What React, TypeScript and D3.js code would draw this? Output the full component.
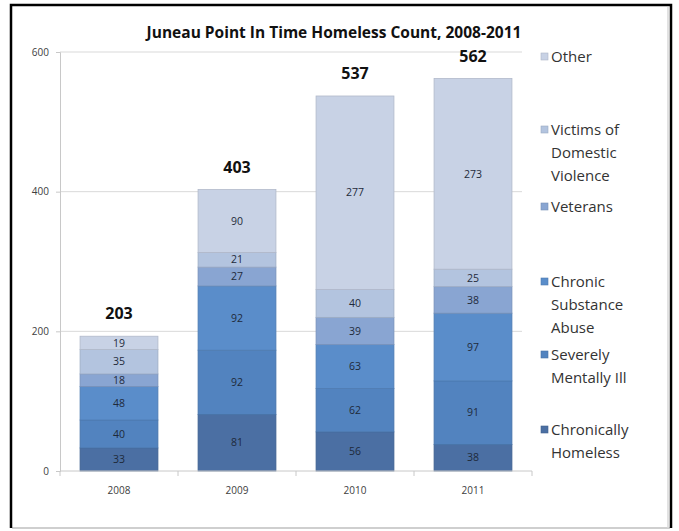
import React, { useEffect, useRef } from "react";
import * as d3 from "d3";

const years = ["2008", "2009", "2010", "2011"];
const totals = [203, 403, 537, 562];
const seriesNames = [
  "Chronically Homeless",
  "Severely Mentally Ill",
  "Chronic Substance Abuse",
  "Veterans",
  "Victims of Domestic Violence",
  "Other",
];
const chronicallyHomeless = [33, 81, 56, 38];
const severelyMentallyIll = [40, 92, 62, 91];
const chronicSubstanceAbuse = [48, 92, 63, 97];
const veterans = [18, 27, 39, 38];
const domesticViolence = [35, 21, 40, 25];
const other = [19, 90, 277, 273];
const yTicks = [0, 200, 400, 600];

// legend lines, top item first (wrapped like the original)
const legendLines: string[][] = [
  ["Other"],
  ["Victims of", "Domestic", "Violence"],
  ["Veterans"],
  ["Chronic", "Substance", "Abuse"],
  ["Severely", "Mentally Ill"],
  ["Chronically", "Homeless"],
];

const colors = ["#4b6fa3", "#5283bf", "#5a8dca", "#89a5d2", "#b3c4df", "#c8d2e5"];

const W = 679;
const H = 531;

const App: React.FC = () => {
  const svgRef = useRef<SVGSVGElement>(null);

  useEffect(() => {
    if (!svgRef.current) return;
    const svg = d3.select(svgRef.current);
    svg.selectAll("*").remove();

    const font = "'Open Sans', sans-serif";

    // frame
    svg.append("rect").attr("width", W).attr("height", H).attr("fill", "#fff");
    svg
      .append("line")
      .attr("x1", 12).attr("x2", 670).attr("y1", 528).attr("y2", 528)
      .attr("stroke", "#cfcfcf").attr("stroke-width", 2);
    svg
      .append("line")
      .attr("x1", 668).attr("x2", 668).attr("y1", 7).attr("y2", 528)
      .attr("stroke", "#d8d8d8").attr("stroke-width", 1.5);
    svg
      .append("path")
      .attr("d", "M11,528 L11,5 L671,5 L671,528")
      .attr("fill", "none")
      .attr("stroke", "#000")
      .attr("stroke-width", 2.5);

    const table = years.map((year, i) => ({
      year,
      s0: chronicallyHomeless[i],
      s1: severelyMentallyIll[i],
      s2: chronicSubstanceAbuse[i],
      s3: veterans[i],
      s4: domesticViolence[i],
      s5: other[i],
    }));
    const keys = ["s0", "s1", "s2", "s3", "s4", "s5"];

    const x = d3
      .scaleBand<string>()
      .domain(years)
      .range([60, 532])
      .paddingInner(0.34)
      .paddingOuter(0.17);
    const y = d3.scaleLinear().domain([0, 600]).range([471, 52]);

    // gridlines
    svg
      .append("g")
      .selectAll("line")
      .data(yTicks.filter((t) => t > 0))
      .enter()
      .append("line")
      .attr("x1", 60)
      .attr("x2", 522)
      .attr("y1", (d) => y(d))
      .attr("y2", (d) => y(d))
      .attr("stroke", "#d9d9d9")
      .attr("stroke-width", 1);

    // y axis
    const yAxis = svg
      .append("g")
      .attr("transform", "translate(60,0)")
      .call(d3.axisLeft(y).tickValues(yTicks).tickSize(4).tickPadding(7));
    yAxis.select(".domain").attr("stroke", "#c8c8c8");
    yAxis.selectAll(".tick line").attr("stroke", "#c8c8c8");
    yAxis
      .selectAll(".tick text")
      .attr("fill", "#404040")
      .style("font-family", font)
      .style("font-size", "10px");

    // stacked bars
    const stacked = d3.stack<any>().keys(keys)(table);
    const layers = svg
      .append("g")
      .selectAll("g")
      .data(stacked)
      .enter()
      .append("g")
      .attr("fill", (_d, i) => colors[i]);

    layers
      .selectAll("rect")
      .data((d) => d.map((p) => ({ p, key: d.key })))
      .enter()
      .append("rect")
      .attr("x", (d) => x(d.p.data.year) ?? 0)
      .attr("width", x.bandwidth())
      .attr("y", (d) => y(d.p[1]))
      .attr("height", (d) => y(d.p[0]) - y(d.p[1]))
      .attr("stroke", (d) => {
        const c = d3.color(colors[keys.indexOf(d.key)]);
        return c ? c.darker(0.35).formatHex() : "#888";
      })
      .attr("stroke-width", 0.8);

    layers
      .selectAll("text")
      .data((d) => d.map((p) => p))
      .enter()
      .append("text")
      .attr("x", (d) => (x(d.data.year) ?? 0) + x.bandwidth() / 2)
      .attr("y", (d) => (y(d[0]) + y(d[1])) / 2)
      .attr("dy", "0.35em")
      .attr("text-anchor", "middle")
      .attr("fill", "#1e2a3a")
      .style("font-family", font)
      .style("font-size", "10.5px")
      .text((d) => d[1] - d[0]);

    // totals
    const last = stacked[stacked.length - 1];
    svg
      .append("g")
      .selectAll("text")
      .data(years)
      .enter()
      .append("text")
      .attr("x", (d) => (x(d) ?? 0) + x.bandwidth() / 2)
      .attr("y", (_d, i) => y(last[i][1]) - 17)
      .attr("text-anchor", "middle")
      .attr("fill", "#111")
      .style("font-family", font)
      .style("font-weight", "bold")
      .style("font-size", "16px")
      .text((_d, i) => totals[i]);

    // x axis
    const xAxis = svg
      .append("g")
      .attr("transform", "translate(0,471)")
      .call(d3.axisBottom(x).tickSize(0).tickPadding(16));
    xAxis.select(".domain").attr("stroke", "#c8c8c8").attr("d", "M60,0H532");
    xAxis
      .selectAll(".tick text")
      .attr("fill", "#404040")
      .style("font-family", font)
      .style("font-size", "10px");
    const step = x.step();
    svg
      .append("g")
      .selectAll("line")
      .data(d3.range(years.length + 1))
      .enter()
      .append("line")
      .attr("x1", (i) => 60 + i * step)
      .attr("x2", (i) => 60 + i * step)
      .attr("y1", 471)
      .attr("y2", 476)
      .attr("stroke", "#c8c8c8");

    // title
    svg
      .append("text")
      .attr("x", 334)
      .attr("y", 38)
      .attr("text-anchor", "middle")
      .attr("fill", "#111")
      .style("font-family", font)
      .style("font-weight", "bold")
      .style("font-size", "15.5px")
      .text("Juneau Point In Time Homeless Count, 2008-2011");

    // legend
    const legendTop = [57, 130, 207, 282, 355, 430];
    const lg = svg
      .append("g")
      .selectAll("g")
      .data(legendLines)
      .enter()
      .append("g")
      .attr("transform", (_d, i) => `translate(541,${legendTop[i]})`);
    lg.append("rect")
      .attr("x", 0)
      .attr("y", -4)
      .attr("width", 7)
      .attr("height", 7)
      .attr("fill", (_d, i) => colors[colors.length - 1 - i])
      .attr("stroke", (_d, i) => {
        const c = d3.color(colors[colors.length - 1 - i]);
        return c ? c.darker(0.4).formatHex() : "#888";
      })
      .attr("stroke-width", 0.6);
    lg.selectAll("text")
      .data((d) => d)
      .enter()
      .append("text")
      .attr("x", 10)
      .attr("y", (_d, j) => j * 23)
      .attr("dy", "0.35em")
      .attr("fill", "#333")
      .style("font-family", font)
      .style("font-size", "15px")
      .text((d) => d);
  }, []);

  return (
    <svg
      ref={svgRef}
      width={W}
      height={H}
      style={{ position: "absolute", left: 0, top: 0, display: "block" }}
    />
  );
};

export default App;
